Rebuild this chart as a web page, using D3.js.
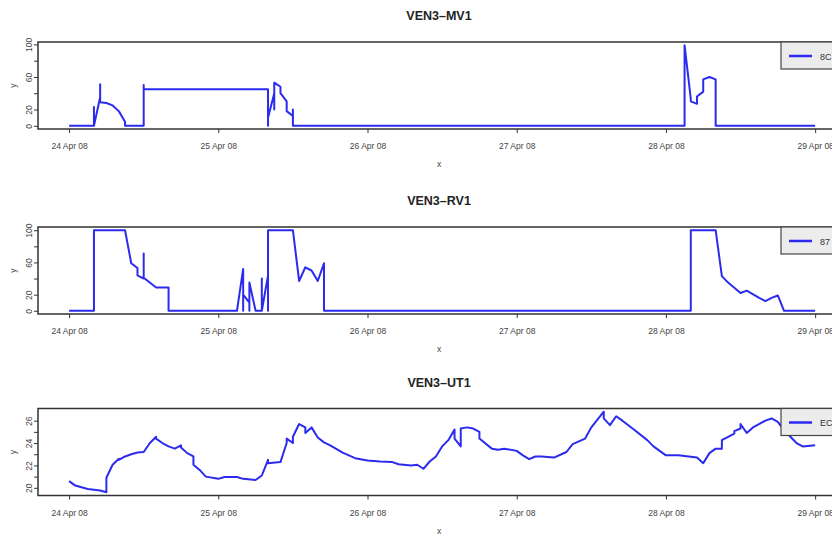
<!DOCTYPE html>
<html>
<head>
<meta charset="utf-8">
<script src="https://cdn.jsdelivr.net/npm/d3@7"></script>
<style>
  body { margin: 0; background: #fff; }
  text { font-family: "Liberation Sans", Arial, sans-serif; }
</style>
</head>
<body>
<svg id="chart" width="832" height="534"></svg>
<script>
// hours after 24 Apr 2008 00:00
var mvHours = [0, 4.04, 4.12, 4.37, 4.85, 5.18, 5.42, 5.66, 6.31, 7.28, 8.41, 9.22, 9.54, 12.45, 12.47,
  12.61, 32.35, 32.43, 32.67, 32.99, 33.32, 33.64, 33.96, 34.45, 34.93, 35.42, 35.74, 36.07, 36.23, 36.55,
  99.79, 99.87, 100.11, 100.60, 101.08, 101.73, 102.21, 102.70, 103.51, 104.15, 104.48, 104.96, 120];
var mvValues = [0, 0, 23, 0, 0, 35, 51, 29, 28, 25, 18, 5, 0, 0, 50,
  45, 45, 0, 30, 10, 40, 20, 53, 48, 40, 30, 18, 12, 20, 0,
  0, 99, 33, 30, 27, 36, 42, 57, 60, 57, 36, 0, 0];

var rvHours = [0, 4.04, 4.12, 4.20, 4.37, 9.54, 10.51, 11.16, 11.97, 12.45, 12.61, 12.94, 14.07, 16.82, 16.98,
  27.98, 28.06, 28.30, 28.79, 29.27, 29.76, 29.92, 30.24, 31.21, 31.38, 31.54, 31.70, 31.86, 32.02, 32.18,
  32.35, 32.51, 32.67, 36.39, 37.52, 38.65, 39.46, 40.11, 41.08, 41.24, 100.11, 100.19, 104.64, 105.45, 106.26,
  108.68, 109.49, 111.43, 112.72, 113.86, 114.83, 115.15, 120];
var rvValues = [0, 0, 100, 69, 100, 100, 59, 53, 44, 40, 71, 41, 29, 29, 0,
  0, 52, 0, 20, 10, 0, 35, 0, 0, 34, 0, 40, 0, 44, 0,
  42, 0, 100, 100, 37, 54, 50, 37, 59, 0, 0, 100, 100, 43, 35,
  22, 25, 16, 12, 16, 19, 0, 0];

var utHours = [0, 1.94, 3.56, 5.18, 6.15, 6.79, 7.60, 8.41, 8.94, 9.75,
  10.56, 11.37, 12.45, 13.26, 14.35, 14.88, 15.69, 16.77, 17.58, 18.11,
  18.65, 19.20, 20.01, 20.81, 21.88, 22.97, 24.05, 25.67, 27.28, 28.90,
  30.24, 31.33, 32.14, 32.67, 34.29, 35.10, 35.63, 36.18, 36.71, 37.52,
  38.06, 38.86, 39.95, 40.76, 41.56, 42.91, 44.52, 46.42, 48.31, 50.46,
  52.35, 53.69, 55.31, 56.40, 57.46, 58.27, 59.35, 60.16, 61.25, 62.06,
  62.43, 63.12, 63.93, 64.58, 65.29, 66.10, 66.91, 68.25, 69.87, 70.95,
  72.57, 73.64, 74.44, 75.25, 76.87, 78.76, 80.10, 81.72, 83.34, 84.70,
  86.04, 86.85, 87.55, 88.74, 89.81, 91.43, 93.04, 94.66, 96.83, 98.98,
  101.13, 102.21, 103.30, 104.37, 105.17, 105.98, 107.07, 107.60, 108.15, 108.68,
  109.49, 110.83, 112.45, 113.81, 114.62, 115.68, 117.30, 118.66, 120];
var utValues = [20.6, 20.2, 19.9, 19.76, 19.6, 20.9, 22.06, 22.6, 22.5, 22.8,
  23.0, 23.15, 23.2, 24.0, 24.56, 24.4, 24.0, 23.7, 23.5, 23.8,
  23.6, 23.1, 22.8, 22.06, 21.6, 21.0, 20.8, 20.97, 20.97, 20.8,
  20.7, 21.1, 22.5, 22.2, 22.3, 24.0, 24.4, 24.0, 24.56, 25.7,
  25.4, 24.9, 25.4, 24.5, 24.06, 23.8, 23.15, 22.65, 22.44, 22.35,
  22.3, 22.1, 22.0, 22.06, 21.7, 22.35, 22.8, 23.7, 24.26, 25.2,
  24.4, 23.7, 25.3, 25.4, 25.3, 25.0, 24.4, 23.5, 23.4, 23.5,
  23.3, 22.9, 22.56, 22.8, 22.8, 22.7, 23.2, 23.9, 24.4, 25.4,
  26.8, 26.2, 25.6, 26.4, 26.0, 25.15, 24.26, 23.7, 22.9, 22.9,
  22.7, 22.2, 23.1, 23.5, 23.5, 24.26, 24.85, 25.06, 25.3, 25.7,
  24.9, 25.4, 26.0, 26.2, 25.9, 25.15, 24.0, 23.7, 23.8];

var titles = ["VEN3\u2013MV1", "VEN3\u2013RV1", "VEN3\u2013UT1"];
var legendNames = ["8C", "87", "EC"];
var pctTicks = [0, 20, 40, 60, 80, 100];
var pctTickLabels = ["0", "20", "", "60", "", "100"];
var tempTicks = [20, 21, 22, 23, 24, 25, 26];
var tempTickLabels = ["20", "", "22", "", "24", "", "26"];
var dayTicks = [24, 25, 26, 27, 28, 29];

var svg = d3.select("#chart");
var start = new Date(2008, 3, 24);
var toDate = function(h) { return d3.timeHour.offset(start, h); };

var left = 38, right = 840, boxH = 87;
var tops = [42, 227, 408.5];

var span = 120 * 0.04;
var x = d3.scaleTime()
    .domain([toDate(-span), toDate(120 + span)])
    .range([left, right]);

var panels = [
  {hours: mvHours, values: mvValues, ticks: pctTicks, labels: pctTickLabels},
  {hours: rvHours, values: rvValues, ticks: pctTicks, labels: pctTickLabels},
  {hours: utHours, values: utValues, ticks: tempTicks, labels: tempTickLabels}
];

panels.forEach(function(p, i) {
  var top = tops[i], bottom = top + boxH;
  var ext = d3.extent(p.values), pad = (ext[1] - ext[0]) * 0.04;
  var y = d3.scaleLinear()
      .domain([ext[0] - pad, ext[1] + pad])
      .range([bottom, top]);

  var g = svg.append("g");

  g.append("clipPath").attr("id", "clip" + i)
    .append("rect")
      .attr("x", left).attr("y", top)
      .attr("width", right - left).attr("height", boxH);

  var pts = p.hours.map(function(h, k) { return [toDate(h), p.values[k]]; });
  var line = d3.line()
      .x(function(d) { return x(d[0]); })
      .y(function(d) { return y(d[1]); });

  g.append("path")
      .datum(pts)
      .attr("clip-path", "url(#clip" + i + ")")
      .attr("d", line)
      .attr("fill", "none")
      .attr("stroke", "#2b2bf0")
      .attr("stroke-width", 2)
      .attr("stroke-linejoin", "round");

  // x axis
  var xa = g.append("g")
      .attr("transform", "translate(0," + bottom + ")")
      .call(d3.axisBottom(x)
        .tickValues(dayTicks.map(function(d) { return new Date(2008, 3, d); }))
        .tickSize(4)
        .tickPadding(10)
        .tickFormat(d3.timeFormat("%d %b %y")));
  xa.select(".domain").remove();
  xa.selectAll("line").attr("stroke", "#333");
  xa.selectAll("text").attr("font-size", 8.5).attr("fill", "#444")
      .attr("font-family", "Liberation Sans, Arial, sans-serif");

  // y axis
  var ya = g.append("g")
      .attr("transform", "translate(" + left + ",0)")
      .call(d3.axisLeft(y)
        .tickValues(p.ticks)
        .tickSize(4)
        .tickFormat(function(d, k) { return p.labels[k]; }));
  ya.select(".domain").remove();
  ya.selectAll("line").attr("stroke", "#333");
  ya.selectAll("text")
      .attr("x", 0).attr("dy", 0)
      .attr("transform", "translate(-6,0) rotate(-90)")
      .attr("text-anchor", "middle")
      .attr("font-size", 8.5).attr("fill", "#444")
      .attr("font-family", "Liberation Sans, Arial, sans-serif");

  // box
  g.append("rect")
      .attr("x", left).attr("y", top)
      .attr("width", right - left).attr("height", boxH)
      .attr("fill", "none")
      .attr("stroke", "#333")
      .attr("stroke-width", 1.5);

  g.append("text")
      .attr("x", (left + right) / 2).attr("y", top - 22)
      .attr("text-anchor", "middle")
      .attr("font-size", 12.5).attr("font-weight", "bold")
      .attr("fill", "#222")
      .text(titles[i]);

  g.append("text")
      .attr("x", (left + right) / 2).attr("y", bottom + 38)
      .attr("text-anchor", "middle")
      .attr("font-size", 8.5).attr("fill", "#444")
      .text("x");

  g.append("text")
      .attr("transform", "translate(16," + (top + boxH / 2) + ") rotate(-90)")
      .attr("text-anchor", "middle")
      .attr("font-size", 8.5).attr("fill", "#444")
      .text("y");

  // legend
  var lg = g.append("g").attr("transform", "translate(781," + top + ")");
  lg.append("rect")
      .attr("width", 70).attr("height", 27)
      .attr("fill", "#ececec")
      .attr("stroke", "#444").attr("stroke-width", 1.2);
  lg.append("line")
      .attr("x1", 8).attr("x2", 31)
      .attr("y1", 14).attr("y2", 14)
      .attr("stroke", "#2b2bf0").attr("stroke-width", 2.5);
  lg.append("text")
      .attr("x", 39).attr("y", 17.5)
      .attr("font-size", 9).attr("fill", "#333")
      .text(legendNames[i]);
});
</script>
</body>
</html>
